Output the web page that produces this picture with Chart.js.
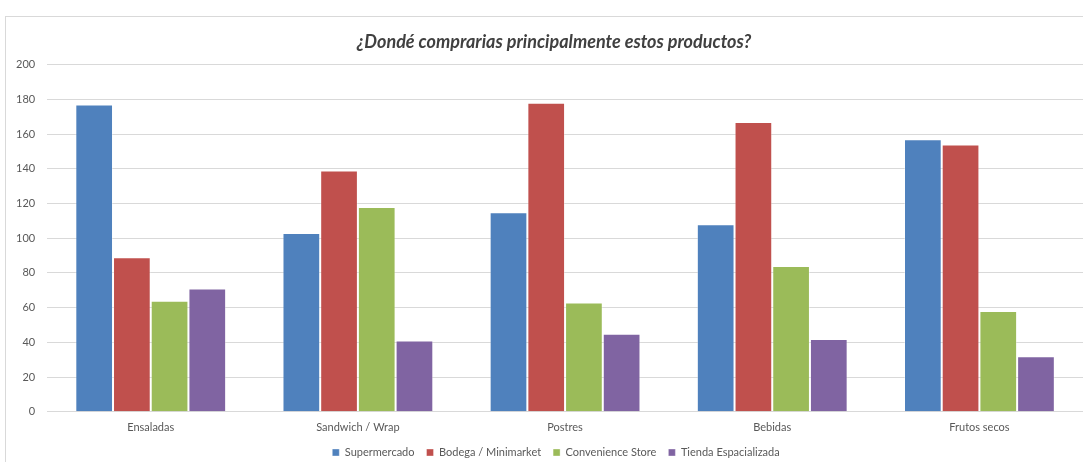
<!DOCTYPE html>
<html>
<head>
<meta charset="utf-8">
<script src="https://cdn.jsdelivr.net/npm/chart.js@4"></script>
<style>
    html, body { margin: 0; padding: 0; background: #fff; overflow: hidden; }
    #frame { position: absolute; left: 5px; top: 16px; width: 1078px; height: 446px; border: 1px solid #d9d9d9; border-right: none; border-bottom: none; box-sizing: border-box; }
    #wrap { position: absolute; left: 0; top: 0; width: 1083px; height: 462px; }
</style>
</head>
<body>
<div id="frame"></div>
<div id="wrap"><canvas id="chart-compras"></canvas></div>
<script>
const categorias = ['Ensaladas', 'Sandwich / Wrap', 'Postres', 'Bebidas', 'Frutos secos'];
const supermercado = [177, 103, 115, 108, 157];
const bodega = [89, 139, 178, 167, 154];
const convenience = [64, 118, 63, 84, 58];
const tienda = [71, 41, 45, 42, 32];
const yTicks = [0, 20, 40, 60, 80, 100, 120, 140, 160, 180, 200];

// the original chart is cropped on the right, so its title/legend sit right of centre
const shiftBlocks = {
    id: 'shiftBlocks',
    afterLayout(chart) {
        if (chart.titleBlock) chart.titleBlock.left += 21;
        if (chart.legend) chart.legend.left += 25;
    }
};

document.addEventListener('DOMContentLoaded', function () {
    const ctx = document.getElementById('chart-compras');
    const serie = (label, data, color) => ({
        label, data,
        backgroundColor: color,
        borderColor: 'rgba(255,255,255,0.35)',
        borderWidth: 1,
        barPercentage: 1,
        categoryPercentage: 0.728,
    });

    new Chart(ctx, {
        type: 'bar',
        data: {
            labels: categorias,
            datasets: [
                serie('Supermercado', supermercado, '#4f81bd'),
                serie('Bodega / Minimarket', bodega, '#c0504d'),
                serie('Convenience Store', convenience, '#9bbb59'),
                serie('Tienda Espacializada', tienda, '#8064a2'),
            ]
        },
        plugins: [shiftBlocks],
        options: {
            responsive: true,
            maintainAspectRatio: false,
            animation: false,
            layout: { padding: { left: 4, right: 0, top: 27, bottom: -6 } },
            plugins: {
                title: {
                    display: true,
                    text: '¿Dondé comprarias principalmente estos productos?',
                    color: '#404040',
                    font: { family: 'Lato', size: 18, style: 'italic', weight: 'bold' },
                    padding: { top: 4, bottom: 12 }
                },
                legend: {
                    position: 'bottom',
                    labels: {
                        boxWidth: 7, boxHeight: 7, padding: 12,
                        color: '#595959',
                        font: { family: 'Lato', size: 11 }
                    }
                },
                tooltip: { enabled: false }
            },
            scales: {
                y: {
                    min: 0, max: 200,
                    afterBuildTicks: axis => { axis.ticks = yTicks.map(v => ({ value: v })); },
                    grid: { color: '#d9d9d9', drawTicks: false },
                    border: { display: false },
                    ticks: { color: '#595959', padding: 12, font: { family: 'Lato', size: 11 } }
                },
                x: {
                    grid: { display: false },
                    border: { color: '#d9d9d9' },
                    ticks: { color: '#595959', padding: 1, font: { family: 'Lato', size: 11 } }
                }
            }
        }
    });
});
</script>
</body>
</html>
